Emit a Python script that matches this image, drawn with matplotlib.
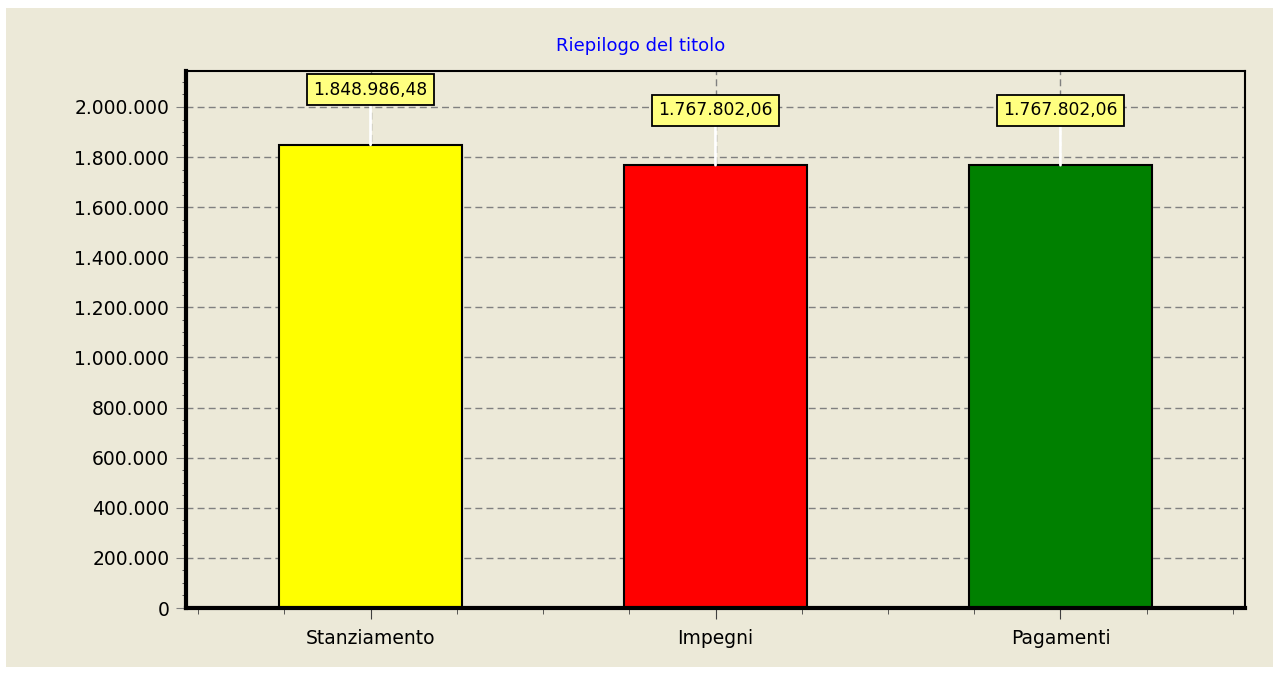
import matplotlib.pyplot as plt
from matplotlib.patches import Rectangle
from matplotlib.ticker import FuncFormatter, MultipleLocator, FixedLocator
import numpy as np

# font config
plt.rcParams['font.family'] = ['DejaVu Sans']

# dati
categorie = ['Stanziamento', 'Impegni', 'Pagamenti']
valori = [1848986.48, 1767802.06, 1767802.06]
colori = ['#FFFF00', '#FF0000', '#008000']
titolo = 'Riepilogo del titolo'

sfondo = '#ECE9D8'


def fmt_it(v, dec=0):
    # formato italiano: punto per le migliaia, virgola per i decimali
    s = f'{v:,.{dec}f}'
    return s.replace(',', 'X').replace('.', ',').replace('X', '.')


fig = plt.figure(figsize=(12.79, 6.73), dpi=100)
fig.patch.set_facecolor('white')

# pannello beige con bordino bianco
fig.patches.append(Rectangle((6 / 1279, 1 - 667 / 673), (1273 - 6) / 1279, (667 - 8) / 673,
                             transform=fig.transFigure, facecolor=sfondo, edgecolor='none', zorder=-10))

ax = fig.add_axes([186 / 1279, 1 - 608 / 673, (1245 - 186) / 1279, (608 - 71) / 673])
ax.set_facecolor(sfondo)

x = np.arange(len(categorie))
ax.bar(x, valori, width=0.53, color=colori, edgecolor='black', linewidth=1.5, zorder=3)

# etichette valori
for xi, v in zip(x, valori):
    ax.annotate(fmt_it(v, 2), (xi, v),
                textcoords='offset pixels', xytext=(0, 55),
                ha='center', va='center', fontsize=12.3, zorder=5,
                bbox=dict(boxstyle='square,pad=0.38', facecolor='#FFFF80', edgecolor='black', linewidth=1.3),
                arrowprops=dict(arrowstyle='-', color='white', lw=2, shrinkA=0, shrinkB=0, zorder=5))

# assi
ax.set_xlim(-0.535, 2.535)
ax.set_ylim(0, 2143700)
ax.set_xticks(x)
ax.set_xticklabels(categorie, fontsize=13.5)
ax.xaxis.set_minor_locator(FixedLocator([t for t in np.arange(-0.5, 2.51, 0.25) if abs(t - round(t)) > 0.01]))
ax.yaxis.set_major_locator(MultipleLocator(200000))
ax.yaxis.set_minor_locator(MultipleLocator(50000))
ax.yaxis.set_major_formatter(FuncFormatter(lambda v, p: fmt_it(v)))
ax.tick_params(axis='y', which='major', labelsize=13.5, length=7, color='#808080', pad=5)
ax.tick_params(axis='y', which='minor', length=3, color='#404040')
ax.tick_params(axis='x', which='major', length=8, color='#404040', pad=7)
ax.tick_params(axis='x', which='minor', length=4, color='#404040')

# griglia
ax.grid(True, axis='both', which='major', linestyle=(0, (5, 3)), color='#808080', linewidth=1, zorder=1)

for lato in ['top', 'right']:
    ax.spines[lato].set_linewidth(1.5)
ax.spines['left'].set_linewidth(3)
ax.spines['bottom'].set_linewidth(3)
for s in ax.spines.values():
    s.set_zorder(4)

# titolo sopra
fig.text(641 / 1279, 1 - 46 / 673, titolo, ha='center', va='center', color='#0000FF', fontsize=13)

plt.savefig('out.png', dpi=100, facecolor=fig.get_facecolor())
